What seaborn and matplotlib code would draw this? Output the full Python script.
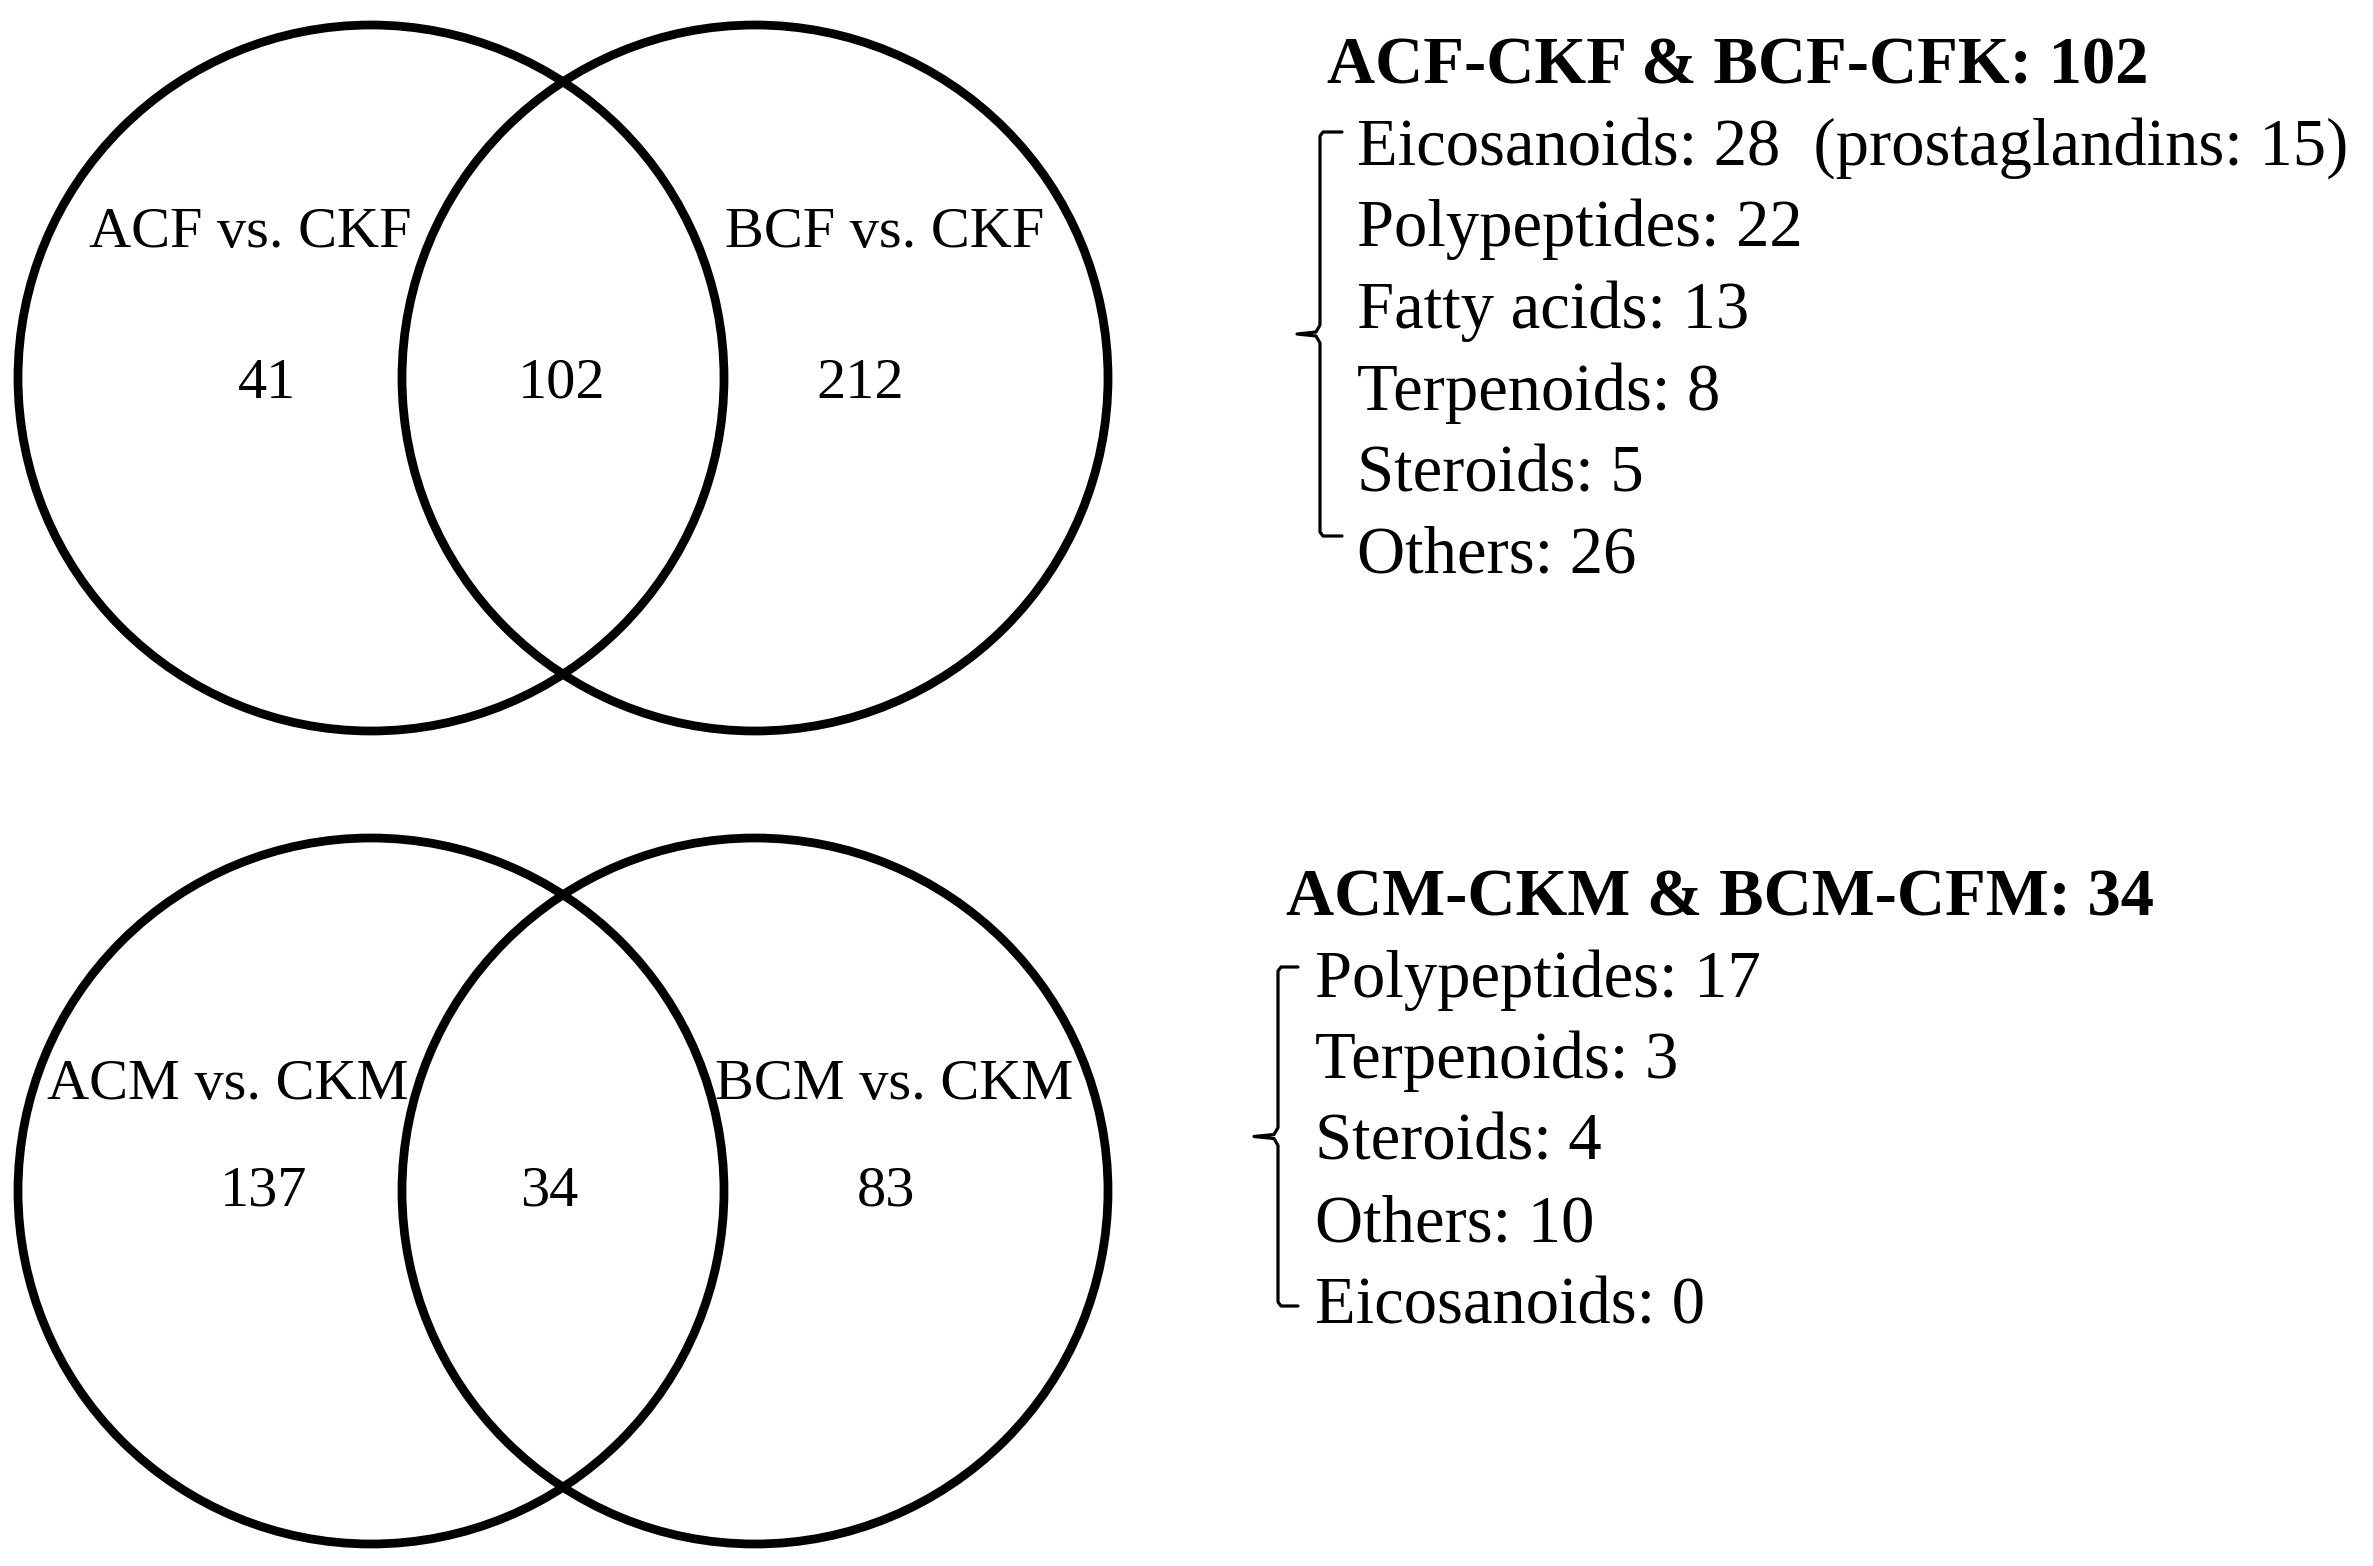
import matplotlib.pyplot as plt
import seaborn as sns
from matplotlib.patches import Circle

sns.set_theme(style="white")
plt.rcParams['font.family'] = ['Liberation Serif', 'DejaVu Serif']
plt.rcParams['text.color'] = 'black'

# Venn data
top_sets = ["ACF vs. CKF", "BCF vs. CKF"]
top_counts = [41, 102, 212]          # only A, shared, only B
bottom_sets = ["ACM vs. CKM", "BCM vs. CKM"]
bottom_counts = [137, 34, 83]

# shared-compound breakdown
top_title = "ACF-CKF & BCF-CFK: 102"
top_classes = ["Eicosanoids", "Polypeptides", "Fatty acids", "Terpenoids", "Steroids", "Others"]
top_class_counts = [28, 22, 13, 8, 5, 26]
top_note = "  (prostaglandins: 15)"

bottom_title = "ACM-CKM & BCM-CFM: 34"
bottom_classes = ["Polypeptides", "Terpenoids", "Steroids", "Others", "Eicosanoids"]
bottom_class_counts = [17, 3, 4, 10, 0]

W, H = 2373, 1566
fig = plt.figure(figsize=(W / 100, H / 100), dpi=100)
ax = fig.add_axes([0, 0, 1, 1])
ax.set_xlim(0, W)
ax.set_ylim(H, 0)
ax.axis('off')


def draw_venn(cy, names, counts, label_x, count_x, label_dy, count_dy):
    r = 353
    for cx in (371, 755):
        ax.add_patch(Circle((cx, cy), r, fill=False, ec='black', lw=6.3))
    ax.text(label_x[0], cy + label_dy, names[0], ha='center', va='baseline', fontsize=42)
    ax.text(label_x[1], cy + label_dy, names[1], ha='center', va='baseline', fontsize=42)
    for x, c in zip(count_x, counts):
        ax.text(x, cy + count_dy, str(c), ha='center', va='baseline', fontsize=42)


def draw_list(title, title_xy, classes, counts, x0, base0, step, note=None):
    ax.text(title_xy[0], title_xy[1], title, ha='left', va='baseline',
            fontsize=48, fontweight='bold')
    for i, (name, n) in enumerate(zip(classes, counts)):
        s = f"{name}: {n}"
        if i == 0 and note:
            s += note
        ax.text(x0, base0 + i * step, s, ha='left', va='baseline', fontsize=48)


def draw_brace(x, top, bottom, tip_x, tick):
    mid = (top + bottom) / 2
    xs = [x + tick, x + 3, x, x, x - 4, tip_x, x - 4, x, x, x + 3, x + tick]
    ys = [top, top, top + 4, mid - 9, mid - 2, mid, mid + 2, mid + 9, bottom - 4, bottom, bottom]
    ax.plot(xs, ys, color='black', lw=2.3, solid_joinstyle='round')


draw_venn(378, top_sets, top_counts, label_x=[250, 885], count_x=[267, 562, 860],
          label_dy=-131, count_dy=20)
draw_venn(1191, bottom_sets, bottom_counts, label_x=[228, 894], count_x=[264, 549, 886],
          label_dy=-92, count_dy=14)

draw_list(top_title, (1327, 83), top_classes, top_class_counts, 1357, 165, 81.5, note=top_note)
draw_brace(1320, 132, 536, 1297, 22)

draw_list(bottom_title, (1286, 915), bottom_classes, bottom_class_counts, 1315, 997, 81.5)
draw_brace(1278, 967, 1306, 1254, 20)

fig.savefig("out.png", dpi=100, facecolor='white')
